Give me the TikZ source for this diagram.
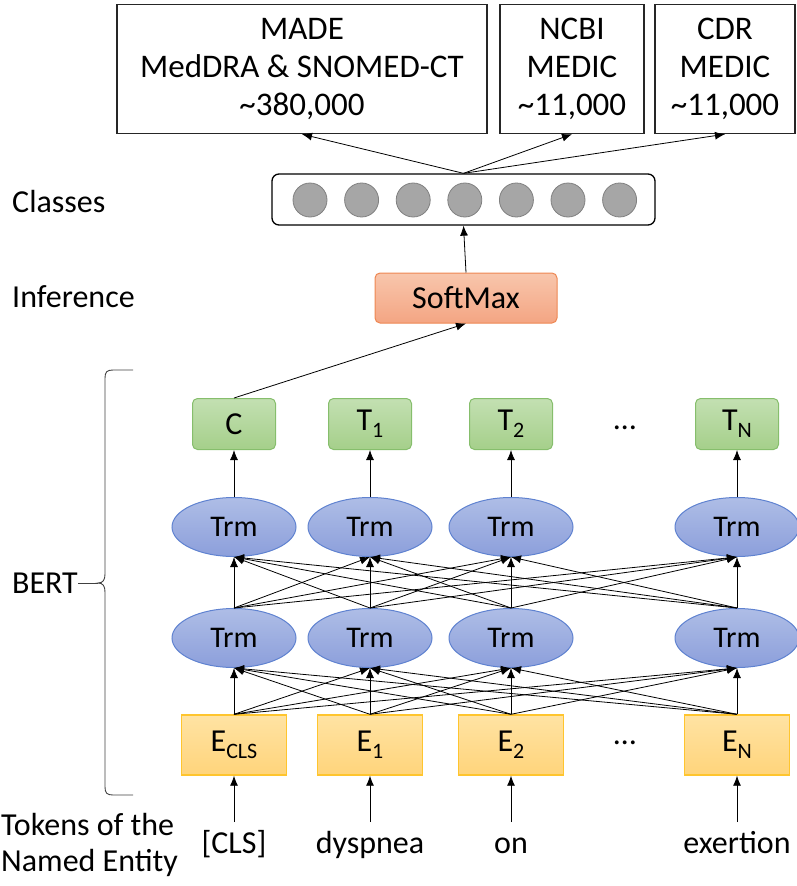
\documentclass[tikz,border=0pt]{standalone}
\usepackage{fontspec}
\setmainfont{Carlito}
\usetikzlibrary{arrows.meta,shapes.geometric}
\definecolor{kgreentop}{HTML}{C3E0B2}
\definecolor{kgreenbot}{HTML}{A5CF8A}
\definecolor{kgreenline}{HTML}{86BE6C}
\definecolor{kbluetop}{HTML}{AEBDE6}
\definecolor{kbluebot}{HTML}{8C9FDB}
\definecolor{kblueline}{HTML}{5F82D0}
\definecolor{kyeltop}{HTML}{FFE3A3}
\definecolor{kyelbot}{HTML}{FFD47B}
\definecolor{kyelline}{HTML}{FFC52E}
\definecolor{ksofttop}{HTML}{F8C6AC}
\definecolor{ksoftbot}{HTML}{F4A583}
\definecolor{ksoftline}{HTML}{EE8752}
\newcommand{\kbig}{\fontsize{32}{38}\selectfont}
\newcommand{\ksub}[1]{\raisebox{-7pt}{\fontsize{22}{22}\selectfont #1}}
\tikzset{
  kfont/.style={font=\kbig},
  kbox/.style={font=\fontsize{33}{38}\selectfont,draw=black!85,line width=1.4pt,fill=white,align=center,inner sep=0pt,minimum height=129pt},
  kclasses/.style={draw=black,line width=1.3pt,rounded corners=7pt,fill=white,minimum width=383pt,minimum height=51pt,inner sep=0pt},
  kcirc/.style={circle,fill=black!35,draw=black!50,line width=0.8pt,minimum size=34pt,inner sep=0pt},
  ksoft/.style={kfont,draw=ksoftline,line width=1pt,rounded corners=5pt,top color=ksofttop,bottom color=ksoftbot,minimum width=182pt,minimum height=50pt},
  kout/.style={kfont,draw=kgreenline,line width=1pt,rounded corners=5pt,top color=kgreentop,bottom color=kgreenbot,minimum width=83pt,minimum height=51pt,inner sep=0pt},
  ktrm/.style={font=\fontsize{30}{36}\selectfont,ellipse,draw=kblueline,line width=1pt,top color=kbluetop,bottom color=kbluebot,minimum width=124pt,minimum height=59pt,inner sep=0pt},
  kemb/.style={kfont,draw=kyelline,line width=1.4pt,top color=kyeltop,bottom color=kyelbot,minimum width=105pt,minimum height=60pt,inner sep=0pt},
  ktok/.style={kfont,anchor=north,text height=28pt,text depth=8pt,inner sep=3pt},
  klabel/.style={kfont,align=left,inner sep=0pt},
  karrow/.style={-{Latex[length=10pt,width=8pt]},line width=0.8pt},
  kbrace/.style={draw=black!75,line width=0.9pt}
}
\begin{document}
\begin{tikzpicture}[x=1pt,y=-1pt]
\useasboundingbox (0,0) rectangle (796,886);
\pgfmathsetmacro{\kcstep}{51.6}
\node[kbox,minimum width=370pt] (made) at (302,69) {MADE\\MedDRA \& SNOMED-CT\\\textasciitilde380,000};
\node[kbox,minimum width=144pt] (ncbi) at (572,69) {NCBI\\MEDIC\\\textasciitilde11,000};
\node[kbox,minimum width=140pt] (cdr) at (725,69) {CDR\\MEDIC\\\textasciitilde11,000};
\node[kclasses] (classes) at (463.5,199.5) {};
\foreach \kc in {0,...,6}{\node[kcirc] (ccirc\kc) at (310+\kc*\kcstep,200) {};}
\foreach \kt in {made,ncbi,cdr}{\draw[karrow](classes.north)--(\kt.south);}
\node[ksoft] (soft) at (466,298) {SoftMax};
\draw[karrow](soft.north)--(classes.south);
\node[klabel,anchor=west] (lclasses) at (12,202) {Classes};
\node[klabel,anchor=west] (linfer) at (12,297) {Inference};
\node[klabel,anchor=east] (lbert) at (78,583) {BERT};
\node[klabel,anchor=west,font=\fontsize{32}{36}\selectfont] (ltok) at (1,845) {Tokens of the\\Named Entity};
\foreach \kn/\kx/\kelb/\ktlb/\ktok in {0/234/{E\ksub{CLS}}/{C}/{[CLS]},1/370/{E\ksub{1}}/{T\ksub{1}}/{dyspnea},2/511/{E\ksub{2}}/{T\ksub{2}}/{on},3/737/{E\ksub{N}}/{T\ksub{N}}/{exertion}}{
\node[kemb] (e\kn) at (\kx,745) {\kelb};
\node[ktrm] (trma\kn) at (\kx,638) {Trm};
\node[ktrm] (trmb\kn) at (\kx,527) {Trm};
\node[kout] (t\kn) at (\kx,424) {\ktlb};
\node[ktok] (tok\kn) at (\kx,822) {\ktok};
\draw[karrow](tok\kn.north)--(e\kn.south);
\draw[karrow](trmb\kn.north)--(t\kn.south);
}
\foreach \ki in {0,...,3}{\foreach \kj in {0,...,3}{
\draw[karrow](e\ki.north)--(trma\kj.south);
\draw[karrow](trma\ki.north)--(trmb\kj.south);}}
\draw[karrow](t0.north)--(soft.south);
\node[kfont] (tdots) at (625,428) {…};
\node[kfont] (edots) at (625,743) {…};
\draw[kbrace] (133,370)--(113,370) .. controls (107,370) and (105,372) .. (105,378)--(105,574) .. controls (105,580) and (103,583) .. (98,583) .. controls (103,583) and (105,586) .. (105,592)--(105,787) .. controls (105,793) and (107,795) .. (113,795)--(133,795);
\coordinate (kbracetip) at (98,583);
\draw[kbrace] (lbert.east)--(kbracetip);
\end{tikzpicture}
\end{document}
